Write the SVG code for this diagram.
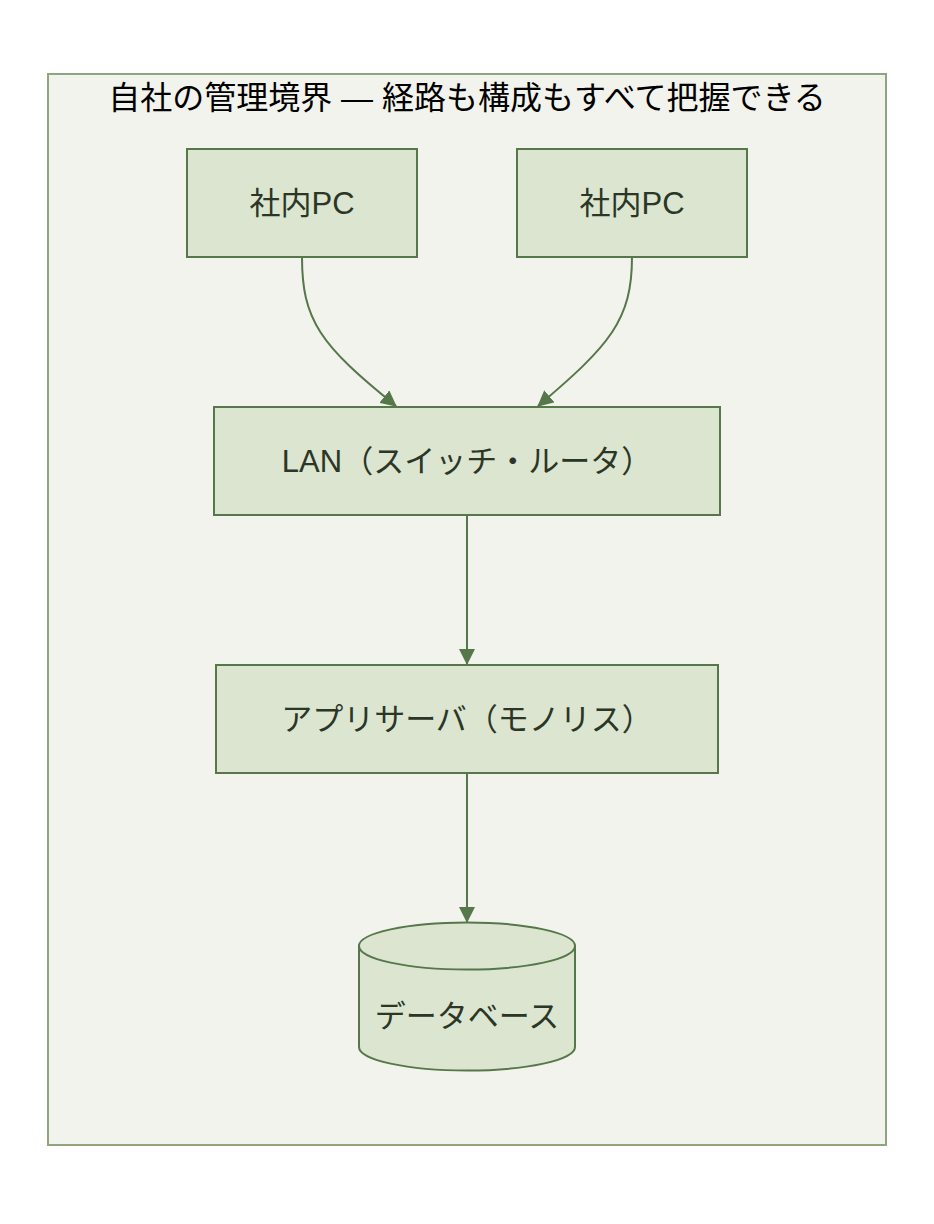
<svg xmlns="http://www.w3.org/2000/svg" width="934" height="1224" viewBox="0 0 934 1224">
<style>
.node{fill:#dce5d0;stroke:#56774a;stroke-width:2}
.lbl{font-family:"Liberation Sans","Noto Sans CJK JP",sans-serif;font-size:31px;fill:#2b3626;text-anchor:middle;dominant-baseline:central}
.edge{fill:none;stroke:#56774a;stroke-width:2}
</style>
<defs>
<marker id="arr" viewBox="0 0 16 16" refX="15" refY="8" markerWidth="16" markerHeight="16" markerUnits="userSpaceOnUse" orient="auto">
<path d="M0,0 L16,8 L0,16 z" fill="#56774a"/>
</marker>
</defs>
<rect width="934" height="1224" fill="#ffffff"/>
<g id="boundary">
<rect x="48" y="74" width="838" height="1071" fill="#f2f3ec" stroke="#8fa67c" stroke-width="2"/>
<text x="467" y="98" style="font-family:'Liberation Sans','Noto Sans CJK JP',sans-serif;font-size:32px;fill:#000;text-anchor:middle;dominant-baseline:central">自社の管理境界 — 経路も構成もすべて把握できる</text>
</g>
<g id="edges">
<path class="edge" d="M302,257 C302,320 320,345 396,406" marker-end="url(#arr)"/>
<path class="edge" d="M632,257 C632,320 610,345 538,406" marker-end="url(#arr)"/>
<path class="edge" d="M467,515 L467,664" marker-end="url(#arr)"/>
<path class="edge" d="M467,773 L467,922" marker-end="url(#arr)"/>
</g>
<g id="pc1">
<rect class="node" x="187" y="149" width="230" height="108"/>
<text class="lbl" x="302" y="203">社内PC</text>
</g>
<g id="pc2">
<rect class="node" x="517" y="149" width="230" height="108"/>
<text class="lbl" x="632" y="203">社内PC</text>
</g>
<g id="lan">
<rect class="node" x="214" y="407" width="506" height="108"/>
<text class="lbl" x="467" y="461">LAN（スイッチ・ルータ）</text>
</g>
<g id="app">
<rect class="node" x="216" y="665" width="502" height="108"/>
<text class="lbl" x="467" y="719">アプリサーバ（モノリス）</text>
</g>
<g id="db">
<path class="node" d="M359,946 L359,1047 A108,23.5 0 0 0 575,1047 L575,946 A108,23.5 0 0 0 359,946 z"/>
<path class="node" fill="none" d="M359,946 A108,23.5 0 0 0 575,946"/>
<text class="lbl" x="467" y="1016">データベース</text>
</g>
</svg>
